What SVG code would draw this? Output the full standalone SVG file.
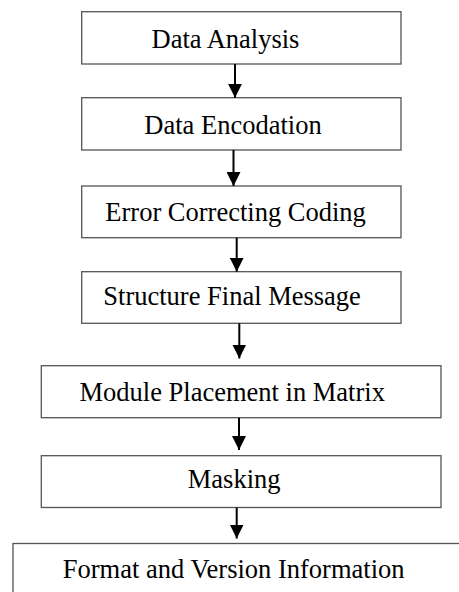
<svg xmlns="http://www.w3.org/2000/svg" width="459" height="592" viewBox="0 0 459 592">
<defs>
<style>
.box{fill:#fff;stroke:#555;stroke-width:1.3}
.lbl{font-family:"Liberation Serif","Times New Roman",serif;font-size:26.5px;fill:#000}
.con{stroke:#000;stroke-width:2;fill:none}
</style>
<marker id="ah" viewBox="0 0 14 14" refX="14" refY="7" markerWidth="14" markerHeight="14" markerUnits="userSpaceOnUse" orient="auto">
<path d="M0,0 L14,7 L0,14 Z" fill="#000"/>
</marker>
</defs>
<rect width="459" height="592" fill="#fff"/>
<g id="n1"><rect class="box" x="81.7" y="11.7" width="319.3" height="52.3"/><text class="lbl" x="151.5" y="48.3">Data Analysis</text></g>
<g id="n2"><rect class="box" x="81.7" y="97.7" width="319.3" height="52.3"/><text class="lbl" x="144.3" y="134">Data Encodation</text></g>
<g id="n3"><rect class="box" x="81.7" y="186" width="319.3" height="51.7"/><text class="lbl" x="105.3" y="220.7">Error Correcting Coding</text></g>
<g id="n4"><rect class="box" x="81.7" y="271.7" width="319.3" height="51.6"/><text class="lbl" x="103.3" y="305">Structure Final Message</text></g>
<g id="n5"><rect class="box" x="41.3" y="365.7" width="399.7" height="52"/><text class="lbl" x="79.5" y="400.7">Module Placement in Matrix</text></g>
<g id="n6"><rect class="box" x="41.3" y="455.7" width="399.7" height="51.8"/><text class="lbl" x="187.8" y="488.3">Masking</text></g>
<g id="n7"><rect class="box" x="13" y="543.5" width="460" height="60"/><text class="lbl" x="62.8" y="578.3">Format and Version Information</text></g>
<g id="connectors">
<line class="con" x1="235" y1="64" x2="235" y2="97.7" marker-end="url(#ah)"/>
<line class="con" x1="233.5" y1="150" x2="233.5" y2="186" marker-end="url(#ah)"/>
<line class="con" x1="236.7" y1="237.7" x2="236.7" y2="271.7" marker-end="url(#ah)"/>
<line class="con" x1="239.3" y1="323.3" x2="239.3" y2="358.5" marker-end="url(#ah)"/>
<line class="con" x1="239" y1="417.7" x2="239" y2="450" marker-end="url(#ah)"/>
<line class="con" x1="236.7" y1="507.5" x2="236.7" y2="538.5" marker-end="url(#ah)"/>
</g>
</svg>
